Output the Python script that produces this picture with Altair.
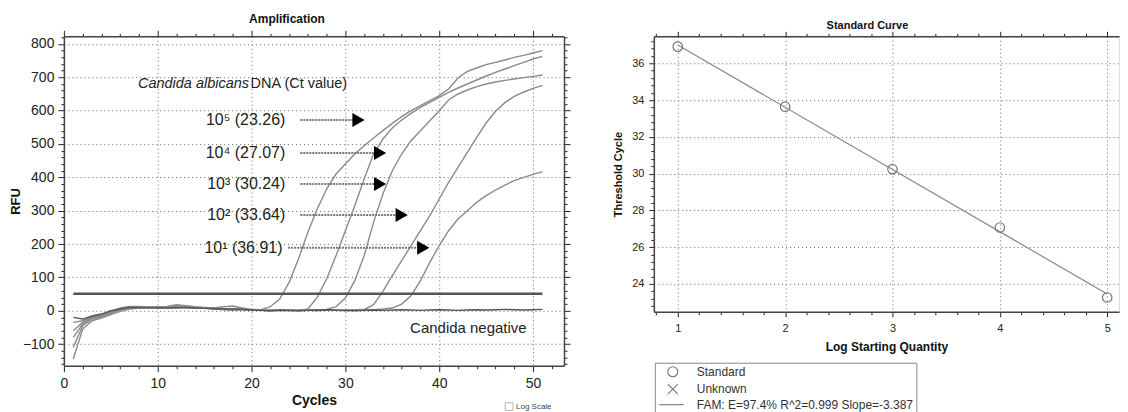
import altair as alt
import pandas as pd

# ---------------- Amplification data (RFU per cycle) ----------------
cycles = list(range(1, 52))
rfu_1e5 = [-145, -55, -30, -22, -12, -2, 5, 8, 10, 11, 12, 14, 12, 10, 9, 8, 12, 14, 8, 4,
           3, 12, 35, 85, 155, 235, 305, 365, 410, 440, 470, 495, 518, 540, 562, 582, 600, 615,
           630, 645, 665, 698, 718, 728, 738, 745, 752, 760, 766, 773, 780]
rfu_1e4 = [-110, -45, -25, -18, -8, 2, 8, 10, 11, 12, 13, 18, 15, 12, 10, 8, 4, 2, 4, 3,
           2, 0, 1, 2, 1, 5, 40, 95, 165, 240, 315, 395, 470, 515, 548, 572, 592, 610,
           625, 640, 655, 668, 680, 692, 704, 715, 725, 735, 745, 755, 763]
rfu_1e3 = [-80, -40, -22, -16, -6, 4, 10, 11, 10, 9, 10, 11, 12, 10, 8, 6, 4, 5, 5, 3,
           1, 0, 2, 1, 0, 1, 2, 4, 12, 38, 90, 165, 265, 350, 420, 470, 510, 540,
           570, 600, 632, 650, 662, 672, 680, 686, 691, 695, 699, 703, 707]
rfu_1e2 = [-60, -35, -20, -14, -4, 6, 12, 12, 11, 10, 9, 10, 11, 9, 8, 7, 3, 1, 3, 2,
           2, 1, 0, 1, 2, 1, 0, 2, 1, 0, 2, 3, 18, 58, 105, 150, 195, 240, 285, 335,
           385, 430, 475, 520, 563, 598, 624, 643, 656, 667, 676]
rfu_1e1 = [-35, -30, -18, -12, -2, 8, 13, 13, 12, 10, 9, 9, 10, 8, 7, 6, 5, 6, 4, 2,
           1, 2, 1, 0, 1, 2, 3, 2, 1, 2, 3, 4, 3, 5, 8, 20, 45, 90, 145, 195,
           240, 275, 300, 325, 345, 362, 377, 390, 400, 409, 417]
rfu_neg = [-20, -25, -16, -10, 0, 5, 10, 9, 8, 8, 8, 9, 9, 8, 7, 6, 5, 5, 4, 2,
           1, 0, 2, 1, 0, 1, 2, 3, 2, 1, 0, 1, 2, 1, 2, 3, 2, 1, 2, 3,
           2, 1, 2, 3, 2, 3, 4, 3, 2, 3, 4]
sample_names = ["1e5", "1e4", "1e3", "1e2", "1e1", "negative"]
threshold_rfu = 51
threshold_span = [1, 51]

# labels / annotations
dilution_labels = ["10\u2075 (23.26)", "10\u2074 (27.07)", "10\u00b3 (30.24)",
                   "10\u00b2 (33.64)", "10\u00b9 (36.91)"]
label_levels = [572, 473, 380, 287, 189]
label_right_cycle = [23.6, 23.6, 23.6, 23.6, 23.3]
arrow_start_cycle = [25.2, 25.2, 25.2, 25.2, 23.9]
arrow_head_cycle = [31.4, 33.7, 33.7, 36.0, 38.3]

# ---------------- Standard curve data ----------------
log_quantity = [1, 2, 3, 4, 5]
threshold_cycle = [36.91, 33.64, 30.24, 27.07, 23.26]
legend_items = ["Standard", "Unknown", "FAM: E=97.4% R^2=0.999 Slope=-3.387"]

FONT = "Liberation Sans"
EDGE = "#444"

# ---------------- build tables ----------------
series = [rfu_1e5, rfu_1e4, rfu_1e3, rfu_1e2, rfu_1e1, rfu_neg]
rows = []
for name, vals in zip(sample_names, series):
    for c, v in zip(cycles, vals):
        rows.append({"cycle": c, "rfu": v, "sample": name})
amp = pd.DataFrame(rows)

ann = pd.DataFrame({
    "label": dilution_labels,
    "level": label_levels,
    "lx": label_right_cycle,
    "x0": arrow_start_cycle,
    "x1": arrow_head_cycle,
})

xs = alt.Scale(domain=[0, 53.3], nice=False, zero=False)
ys = alt.Scale(domain=[-165, 823], nice=False, zero=False)


def cond(test, on, off):
    return {"condition": {"test": test, "value": on}, "value": off}


def frame_axis(orient, values, test, major, minor):
    # tick-only axis used for the top/right frame of a panel
    return alt.Axis(orient=orient, values=values, tickCount=500, labels=False, grid=False,
                    domain=True, domainColor=EDGE, domainWidth=1.5, ticks=True,
                    tickColor="#222", tickSize=cond(test, major, minor), title=None)


t10 = "datum.value % 10 === 0"
t100 = "datum.value % 100 === 0"
xv_left = list(range(0, 53, 2))
yv_left = list(range(-160, 821, 20))
x_axis_left = alt.Axis(
    values=xv_left, tickCount=500,
    labelExpr="datum.value % 10 === 0 ? format(datum.value, 'd') : ''",
    grid=True, gridDash=[1, 3], gridColor="#666", gridWidth=1,
    gridOpacity=cond(t10, 1, 0), tickSize=cond(t10, 6, 3),
    tickColor="#222", domainColor=EDGE, domainWidth=1.5,
    labelFont=FONT, labelFontSize=14, labelColor="#222", labelPadding=5,
    labelOverlap=False, labelFlush=False,
    title="Cycles", titleFont=FONT, titleFontSize=14, titleFontWeight="bold",
    titleColor="#111", titlePadding=3,
)
y_axis_left = alt.Axis(
    values=yv_left, tickCount=500,
    labelExpr="datum.value % 100 === 0 ? format(datum.value, 'd') : ''",
    grid=True, gridDash=[1, 3], gridColor="#666", gridWidth=1,
    gridOpacity=cond(t100, 1, 0), tickSize=cond(t100, 6, 3),
    tickColor="#222", domainColor=EDGE, domainWidth=1.5,
    labelFont=FONT, labelFontSize=14, labelColor="#222", labelPadding=4,
    labelOverlap=False, labelFlush=False,
    title="RFU", titleFont=FONT, titleFontSize=13, titleFontWeight="bold",
    titleColor="#111", titlePadding=0,
)

base_amp = alt.Chart(amp)

curves = base_amp.mark_line(strokeWidth=1.4, clip=True).encode(
    x=alt.X("cycle:Q", scale=xs, axis=x_axis_left),
    y=alt.Y("rfu:Q", scale=ys, axis=y_axis_left),
    detail="sample:N",
    color=alt.Color("sample:N", scale=alt.Scale(domain=sample_names,
                    range=["#8a8a8a"] * 5 + ["#555555"]), legend=None),
)

thr = pd.DataFrame({"x0": [threshold_span[0]], "x1": [threshold_span[1]], "y": [threshold_rfu]})
threshold_line = alt.Chart(thr).mark_rule(color="#555", strokeWidth=2.5).encode(
    x=alt.X("x0:Q", scale=xs), x2="x1:Q", y=alt.Y("y:Q", scale=ys))

arrow_lines = alt.Chart(ann).mark_rule(color="#777", strokeWidth=2, strokeDash=[2, 1]).encode(
    x=alt.X("x0:Q", scale=xs), x2="x1:Q", y=alt.Y("level:Q", scale=ys))
arrow_heads = alt.Chart(ann).mark_point(shape="triangle-right", filled=True, color="#000",
                                        size=200, opacity=1).encode(
    x=alt.X("x1:Q", scale=xs), y=alt.Y("level:Q", scale=ys))
label_text = alt.Chart(ann).mark_text(align="right", baseline="middle", font=FONT,
                                      fontSize=16, color="#222").encode(
    x=alt.X("lx:Q", scale=xs), y=alt.Y("level:Q", scale=ys), text="label:N")

head_df = pd.DataFrame({"t1": ["Candida albicans"], "t2": ["DNA (Ct value)"],
                        "x1": [7.9], "x2": [19.9], "y": [680],
                        "neg": ["Candida negative"], "nx": [36.9], "ny": [-51]})
head1 = alt.Chart(head_df).mark_text(align="left", baseline="middle", font=FONT, fontSize=14.5,
                                     fontStyle="italic", color="#222").encode(
    x=alt.X("x1:Q", scale=xs), y=alt.Y("y:Q", scale=ys), text="t1:N")
head2 = alt.Chart(head_df).mark_text(align="left", baseline="middle", font=FONT, fontSize=14.5,
                                     color="#222").encode(
    x=alt.X("x2:Q", scale=xs), y=alt.Y("y:Q", scale=ys), text="t2:N")
neg_text = alt.Chart(head_df).mark_text(align="left", baseline="middle", font=FONT, fontSize=15,
                                        color="#222").encode(
    x=alt.X("nx:Q", scale=xs), y=alt.Y("ny:Q", scale=ys), text="neg:N")

ui_df = pd.DataFrame({"t": ["Log Scale"]})
checkbox = alt.Chart(ui_df).mark_square(size=60, filled=False, color="#999",
                                        strokeWidth=1).encode(
    x=alt.value(446), y=alt.value(371))
checkbox_text = alt.Chart(ui_df).mark_text(align="left", baseline="middle", font=FONT,
                                           fontSize=8, color="#444").encode(
    x=alt.value(453), y=alt.value(371), text="t:N")

left_main = alt.layer(curves, threshold_line, arrow_lines, arrow_heads, label_text,
                      head1, head2, neg_text, checkbox, checkbox_text)
left_frame = base_amp.mark_point(opacity=0).encode(
    x=alt.X("cycle:Q", scale=xs, axis=frame_axis("top", xv_left, t10, 6, 3)),
    y=alt.Y("rfu:Q", scale=ys, axis=frame_axis("right", yv_left, t100, 6, 3)),
)
left = alt.layer(left_main, left_frame).resolve_axis(x="independent", y="independent").properties(
    width=501, height=330,
    title=alt.TitleParams("Amplification", font=FONT, fontSize=12, fontWeight="bold",
                          color="#111", dx=-27, offset=4),
)

# ---------------- Standard curve ----------------
std = pd.DataFrame({"lq": log_quantity, "ct": threshold_cycle, "kind": ["Standard"] * 5})
xs2 = alt.Scale(domain=[0.777, 5.11], nice=False, zero=False)
ys2 = alt.Scale(domain=[22.48, 37.47], nice=False, zero=False)

x_vals2 = [round(0.8 + 0.2 * i, 1) for i in range(22)]
y_vals2 = [round(22.8 + 0.4 * i, 1) for i in range(37)]
tint = "abs(datum.value - round(datum.value)) < 0.01"
teven = "abs(datum.value/2 - round(datum.value/2)) < 0.01"
x_axis_right = alt.Axis(
    values=x_vals2, tickCount=500,
    labelExpr="abs(datum.value - round(datum.value)) < 0.01 ? format(datum.value, 'd') : ''",
    grid=True, gridDash=[1, 3], gridColor="#666",
    gridOpacity=cond(tint, 1, 0), tickSize=cond(tint, 5, 3),
    tickColor="#222", domainColor=EDGE, domainWidth=1.5,
    labelFont=FONT, labelFontSize=11, labelColor="#222", labelPadding=6,
    labelOverlap=False, labelFlush=False,
    title="Log Starting Quantity", titleFont=FONT, titleFontSize=12, titleFontWeight="bold",
    titleColor="#111", titlePadding=8,
)
y_axis_right = alt.Axis(
    values=y_vals2, tickCount=500,
    labelExpr="abs(datum.value/2 - round(datum.value/2)) < 0.01 ? format(datum.value, 'd') : ''",
    grid=True, gridDash=[1, 3], gridColor="#666",
    gridOpacity=cond(teven, 1, 0), tickSize=cond(teven, 5, 3),
    tickColor="#222", domainColor=EDGE, domainWidth=1.5,
    labelFont=FONT, labelFontSize=11, labelColor="#222", labelPadding=5,
    labelOverlap=False, labelFlush=False,
    title="Threshold Cycle", titleFont=FONT, titleFontSize=11, titleFontWeight="bold",
    titleColor="#111", titlePadding=8,
)

fit_line = alt.Chart(std).transform_regression("lq", "ct").mark_line(
    color="#888", strokeWidth=1.2).encode(
    x=alt.X("lq:Q", scale=xs2, axis=x_axis_right),
    y=alt.Y("ct:Q", scale=ys2, axis=y_axis_right),
)
points = alt.Chart(std).mark_point(filled=False, color="#777", size=90,
                                   strokeWidth=1.2, opacity=1).encode(
    x=alt.X("lq:Q", scale=xs2),
    y=alt.Y("ct:Q", scale=ys2),
    shape=alt.Shape("kind:N", scale=alt.Scale(
        domain=legend_items,
        range=["circle", "M-1,-1L1,1M-1,1L1,-1", "M-2.7,0L2.2,0"]),
        legend=alt.Legend(title=None, orient="none", legendX=592, legendY=327,
                          strokeColor="#888", padding=3, labelFont=FONT, labelFontSize=12,
                          labelColor="#333", labelLimit=0, symbolStrokeColor="#777",
                          symbolFillColor="transparent", symbolStrokeWidth=1.1,
                          symbolSize=100, symbolOffset=9, rowPadding=1.5, labelOffset=18)),
)
right_frame = alt.Chart(std).mark_point(opacity=0).encode(
    x=alt.X("lq:Q", scale=xs2, axis=frame_axis("top", x_vals2, tint, 5, 3)),
)

right_main = alt.layer(fit_line, points)
right = alt.layer(right_main, right_frame).resolve_axis(x="independent").properties(
    width=466, height=276,
    title=alt.TitleParams("Standard Curve", font=FONT, fontSize=11, fontWeight="bold",
                          color="#111", dx=-19, dy=-4, offset=-4),
)

chart = alt.hconcat(left, right, spacing=41).properties(
    padding={"left": 0, "top": 4, "right": 0, "bottom": 0}
).configure_view(strokeWidth=0).configure(background="white")

chart.save("out.html", embed_options={"renderer": "svg", "actions": False})
